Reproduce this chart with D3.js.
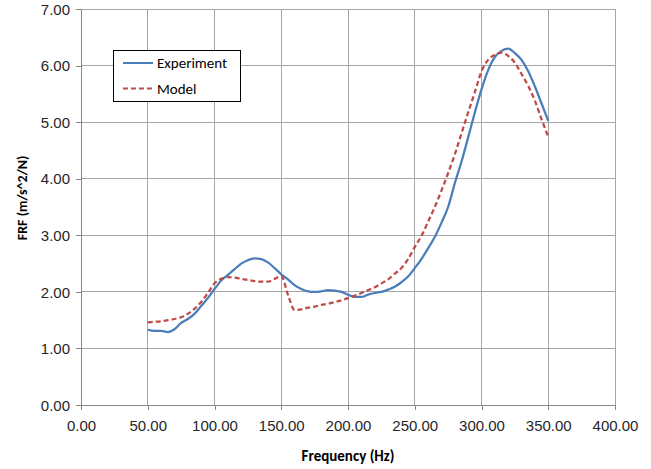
<!DOCTYPE html>
<html>
<head>
<meta charset="utf-8">
<script src="https://cdn.jsdelivr.net/npm/d3@7"></script>
<style>
  body { margin: 0; background: #fff; }
  svg { display: block; font-family: Carlito, Lato, "Liberation Sans", sans-serif; }
</style>
</head>
<body>
<svg width="651" height="469"></svg>
<script>
const frequency = [
  50, 55, 60, 65, 70, 75, 80, 85, 90, 95,
  100, 105, 110, 115, 120, 125, 130, 135, 140, 145,
  150, 155, 160, 165, 170, 175, 180, 185, 190, 195,
  200, 205, 210, 215, 220, 225, 230, 235, 240, 245,
  250, 255, 260, 265, 270, 275, 280, 285, 290, 295,
  300, 305, 310, 315, 320, 325, 330, 335, 340, 345, 350,
];

const experiment = [
  1.33, 1.31, 1.31, 1.29, 1.34, 1.45, 1.52, 1.61, 1.75, 1.89,
  2.05, 2.20, 2.30, 2.40, 2.50, 2.56, 2.59, 2.58, 2.52, 2.42,
  2.31, 2.22, 2.12, 2.05, 2.01, 2.00, 2.01, 2.03, 2.02, 2.00,
  1.95, 1.91, 1.91, 1.95, 1.98, 2.00, 2.04, 2.09, 2.17, 2.27,
  2.42, 2.58, 2.77, 2.97, 3.22, 3.50, 3.92, 4.30, 4.73, 5.17,
  5.58, 5.92, 6.15, 6.26, 6.30, 6.22, 6.10, 5.90, 5.63, 5.33, 5.02,
];

const model = [
  1.46, 1.47, 1.48, 1.50, 1.52, 1.55, 1.61, 1.70, 1.82, 1.98,
  2.15, 2.23, 2.26, 2.25, 2.23, 2.21, 2.19, 2.18, 2.18, 2.23,
  2.28, 1.95, 1.68, 1.69, 1.72, 1.74, 1.77, 1.79, 1.82, 1.85,
  1.89, 1.93, 1.98, 2.03, 2.08, 2.15, 2.22, 2.32, 2.42, 2.58,
  2.79, 2.99, 3.24, 3.50, 3.79, 4.10, 4.43, 4.80, 5.17, 5.53,
  5.90, 6.10, 6.19, 6.23, 6.17, 6.05, 5.85, 5.64, 5.38, 5.05, 4.74,
];

const xTicks = [0, 50, 100, 150, 200, 250, 300, 350, 400];
const yTicks = [0, 1, 2, 3, 4, 5, 6, 7];

const seriesNames = ["Experiment", "Model"];
const seriesColors = ["#4a7ebb", "#be4b48"];
const seriesDash = [null, "5,3"];

const svg = d3.select("svg");
const margin = { left: 81, right: 36, top: 9, bottom: 64 };
const width = 651, height = 469;

const x = d3.scaleLinear().domain([0, 400]).range([margin.left, width - margin.right]);
const y = d3.scaleLinear().domain([0, 7]).range([height - margin.bottom, margin.top]);

const gridColor = "#a6a6a6";

// grid lines
svg.append("g")
  .selectAll("line.h")
  .data(yTicks)
  .join("line")
  .attr("x1", x(0)).attr("x2", x(400))
  .attr("y1", d => y(d)).attr("y2", d => y(d))
  .attr("stroke", gridColor).attr("stroke-width", 1)
  .attr("shape-rendering", "crispEdges");

svg.append("g")
  .selectAll("line.v")
  .data(xTicks)
  .join("line")
  .attr("x1", d => x(d)).attr("x2", d => x(d))
  .attr("y1", y(0)).attr("y2", y(7))
  .attr("stroke", gridColor).attr("stroke-width", 1)
  .attr("shape-rendering", "crispEdges");

// axes
const xAxis = svg.append("g")
  .attr("transform", `translate(0,${y(0)})`)
  .call(d3.axisBottom(x).tickValues(xTicks).tickFormat(d3.format(".2f")).tickSize(5).tickPadding(10));

const yAxis = svg.append("g")
  .attr("transform", `translate(${x(0)},0)`)
  .call(d3.axisLeft(y).tickValues(yTicks).tickFormat(d3.format(".2f")).tickSize(5).tickPadding(6));

[xAxis, yAxis].forEach(g => {
  g.selectAll("path, line").attr("stroke", "#868686").attr("shape-rendering", "crispEdges");
  g.selectAll("text").attr("fill", "#262626").style("font-size", "15px");
});
yAxis.selectAll("text").attr("dy", "0.35em");

// axis titles
svg.append("text")
  .attr("x", (x(0) + x(400)) / 2)
  .attr("y", 461)
  .attr("text-anchor", "middle")
  .style("font-size", "15px")
  .style("font-weight", "bold")
  .attr("fill", "#000")
  .text("Frequency (Hz)");

svg.append("text")
  .attr("transform", `translate(27,198) rotate(-90)`)
  .attr("text-anchor", "middle")
  .style("font-size", "14px")
  .style("font-weight", "bold")
  .attr("fill", "#000")
  .text("FRF (m/s^2/N)");

// lines
const line = d3.line()
  .x(d => x(d[0]))
  .y(d => y(d[1]))
  .curve(d3.curveMonotoneX);

[experiment, model].forEach((values, i) => {
  svg.append("path")
    .datum(frequency.map((f, j) => [f, values[j]]))
    .attr("fill", "none")
    .attr("stroke", seriesColors[i])
    .attr("stroke-width", 2.25)
    .attr("stroke-dasharray", seriesDash[i])
    .attr("stroke-linejoin", "round")
    .attr("d", line);
});

// legend
const legend = svg.append("g").attr("transform", "translate(113,50)");
legend.append("rect")
  .attr("width", 127).attr("height", 51)
  .attr("fill", "#fff")
  .attr("stroke", "#000").attr("stroke-width", 1)
  .attr("shape-rendering", "crispEdges");

seriesNames.forEach((name, i) => {
  const cy = 13 + i * 25.5;
  legend.append("line")
    .attr("x1", 10).attr("x2", 40)
    .attr("y1", cy).attr("y2", cy)
    .attr("stroke", seriesColors[i])
    .attr("stroke-width", 2)
    .attr("stroke-dasharray", seriesDash[i]);
  legend.append("text")
    .attr("x", 44).attr("y", cy)
    .attr("dy", "0.35em")
    .style("font-size", "15px")
    .attr("fill", "#000")
    .text(name);
});
</script>
</body>
</html>
